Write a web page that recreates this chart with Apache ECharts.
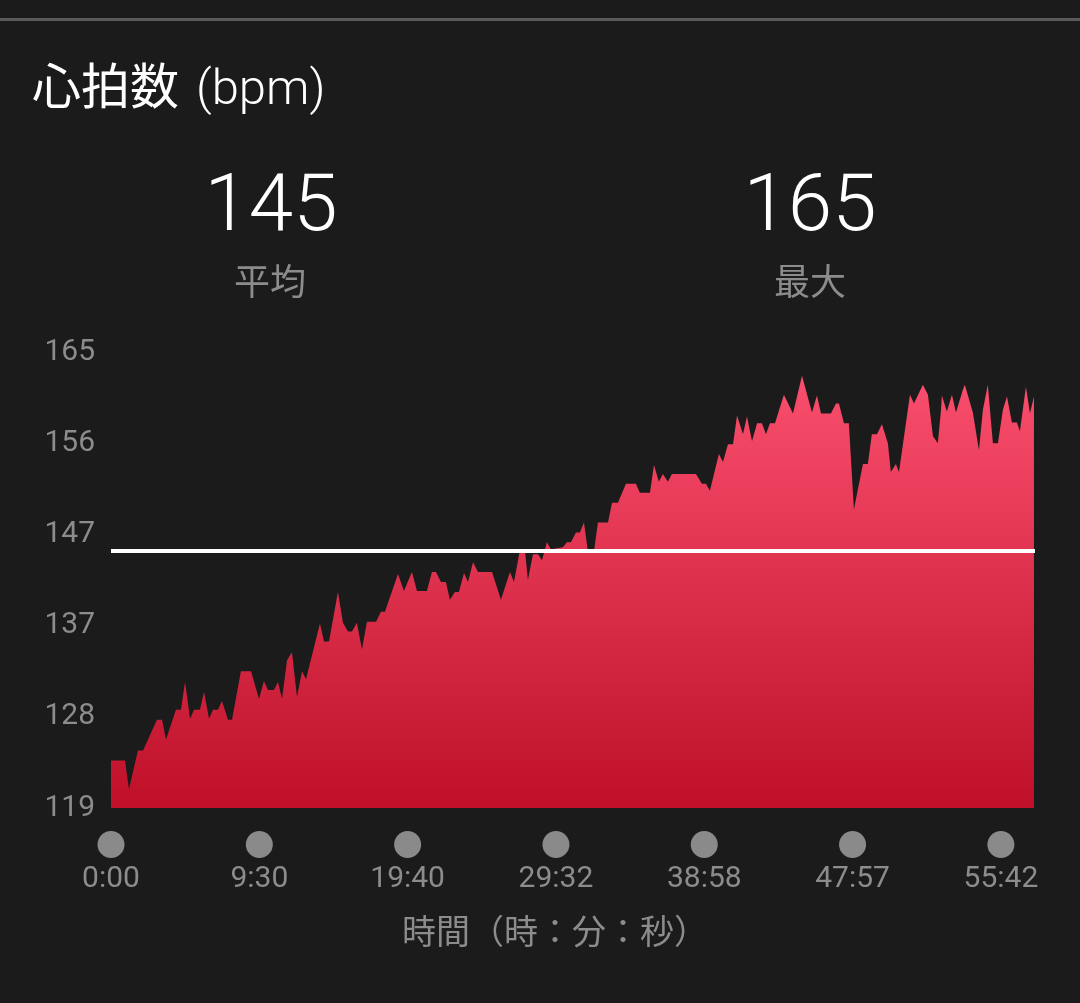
<!DOCTYPE html>
<html>
<head>
<meta charset="utf-8">
<script src="https://cdn.jsdelivr.net/npm/echarts@6/dist/echarts.min.js"></script>
<style>
html,body{margin:0;padding:0;background:#1b1b1b;}
#c{width:1080px;height:1003px;}
</style>
</head>
<body>
<div id="c"></div>
<script>
// distance-like position along the run (axis units, one tick label per unit)
var dist = [0,0.094,0.121,0.182,0.216,0.310,0.344,0.371,0.438,0.472,0.499,0.533,0.560,0.600,0.627,0.661,0.688,0.721,0.748,0.789,0.816,0.876,0.944,0.998,
1.031,1.058,1.099,1.126,1.153,1.187,1.220,1.254,1.288,1.315,1.409,1.436,1.470,1.530,1.564,1.598,1.625,1.658,1.692,1.726,1.787,1.820,1.847,1.935,1.975,2.029,
2.063,2.130,2.164,2.191,2.225,2.258,2.285,2.319,2.346,2.380,2.407,2.441,2.474,2.569,2.629,2.690,2.717,2.757,2.791,2.811,2.845,2.879,2.906,2.939,2.966,3.047,
3.074,3.101,3.135,3.162,3.189,3.216,3.256,3.283,3.351,3.378,3.418,3.472,3.539,3.566,3.634,3.661,3.694,3.721,3.755,3.782,3.944,3.984,4.011,4.038,4.099,
4.126,4.160,4.194,4.221,4.261,4.288,4.322,4.356,4.389,4.416,4.443,4.477,4.537,4.598,4.659,4.726,4.760,4.787,4.854,4.888,4.908,4.942,4.975,5.009,5.070,5.103,
5.130,5.164,5.198,5.238,5.258,5.292,5.313,5.326,5.353,5.387,5.414,5.474,5.508,5.542,5.575,5.596,5.602,5.636,5.670,5.697,5.744,5.757,5.811,5.852,5.879,5.912,
5.946,5.980,6.014,6.041,6.074,6.108,6.128,6.148,6.169,6.196,6.223];
// heart rate (bpm)
var heartRate = [123.8,123.8,120.9,124.8,124.8,127.9,127.9,125.9,128.9,128.9,131.7,128.0,128.9,128.9,130.7,128.0,128.9,128.9,129.8,127.9,127.9,132.8,132.8,130.0,
131.8,130.9,130.9,131.7,130.0,133.9,134.7,130.2,132.8,132.0,137.6,135.8,135.8,140.8,137.7,136.8,136.8,137.7,135.0,137.8,137.8,138.8,138.8,142.6,140.9,142.8,
140.9,140.9,142.8,142.8,141.8,141.8,140.0,140.8,140.8,142.7,141.8,143.8,142.8,142.8,140.0,142.8,141.8,145.0,145.0,142.0,144.6,144.6,144.0,145.8,145.1,145.3,
145.8,145.8,146.8,146.8,147.8,144.8,144.8,147.8,147.8,149.8,149.8,151.7,151.7,150.8,150.8,153.6,151.9,152.7,151.9,152.7,152.7,151.7,151.7,151.0,154.7,
153.9,155.7,155.7,158.6,156.7,158.5,156.0,157.8,157.8,156.7,157.8,157.8,160.7,158.8,162.6,158.9,160.6,158.8,158.8,159.8,159.8,157.8,157.8,149.1,153.7,153.7,
156.7,156.7,157.7,155.8,152.9,153.7,152.9,152.9,157.1,160.7,159.8,161.7,160.7,156.5,155.8,159.1,160.6,159.0,160.7,158.9,161.2,161.7,158.9,155.1,159.2,161.7,
155.8,155.8,159.2,160.5,157.9,157.9,157.0,159.2,161.5,158.8,160.5];
var timeLabels = ['0:00','9:30','19:40','29:32','38:58','47:57','55:42'];
var avgHr = 145;
var maxHr = 165;
var yMin = 119, yMax = 165;

var seriesData = dist.map(function(d, i){ return [d, heartRate[i]]; });

var chart = echarts.init(document.getElementById('c'), null, {renderer:'canvas'});
var FONT = 'Roboto, "Noto Sans CJK JP", sans-serif';
var GREY = '#8c8c8c';

chart.setOption({
  backgroundColor: '#1b1b1b',
  animation: false,
  grid: {left: 111, right: 45, top: 352, bottom: 195},
  xAxis: {
    type: 'value',
    min: 0,
    max: 6.23,
    interval: 1,
    axisLine: {show: false},
    axisTick: {show: false},
    splitLine: {show: false},
    axisLabel: {
      showMaxLabel: false,
      margin: 23,
      formatter: function(v){
        if (Math.abs(v - Math.round(v)) > 1e-6) return '';
        var t = timeLabels[Math.round(v)];
        return t === undefined ? '' : '{d|}\n{t|' + t + '}';
      },
      rich: {
        d: {width: 27, height: 27, borderRadius: 13.5, backgroundColor: '#8a8a8a', align: 'center'},
        t: {fontSize: 30, color: GREY, fontFamily: FONT, lineHeight: 42, align: 'center'}
      }
    }
  },
  yAxis: {
    type: 'value',
    min: yMin,
    max: yMax,
    interval: (yMax - yMin) / 5,
    axisLine: {show: false},
    axisTick: {show: false},
    splitLine: {show: false},
    axisLabel: {
      margin: 16,
      fontSize: 30,
      color: GREY,
      fontFamily: FONT,
      formatter: function(v){ return String(Math.round(v)); }
    }
  },
  series: [{
    type: 'line',
    data: seriesData,
    showSymbol: false,
    symbol: 'none',
    lineStyle: {width: 0},
    areaStyle: {
      opacity: 1,
      color: new echarts.graphic.LinearGradient(0, 0, 0, 1, [
        {offset: 0, color: '#fa4e6e'},
        {offset: 1, color: '#be1028'}
      ])
    },
    markLine: {
      silent: true,
      symbol: 'none',
      label: {show: false},
      lineStyle: {color: '#ffffff', width: 4, type: 'solid'},
      data: [{yAxis: avgHr}]
    }
  }],
  graphic: [
    {type: 'rect', shape: {x: 0, y: 18, width: 1080, height: 3}, style: {fill: '#5a5a5a'}},
    {type: 'text', x: 32, y: 92, style: {text: '心拍数', font: '400 49px ' + FONT, fill: '#ffffff', textVerticalAlign: 'middle'}},
    {type: 'text', x: 196, y: 92, style: {text: '(bpm)', font: '300 49px ' + FONT, fill: '#ffffff', textVerticalAlign: 'middle'}},
    {type: 'text', x: 271, y: 210, style: {text: String(avgHr), font: '300 80px ' + FONT, fill: '#ffffff', textAlign: 'center', textVerticalAlign: 'middle'}},
    {type: 'text', x: 810, y: 210, style: {text: String(maxHr), font: '300 80px ' + FONT, fill: '#ffffff', textAlign: 'center', textVerticalAlign: 'middle'}},
    {type: 'text', x: 270, y: 286, style: {text: '平均', font: '400 36px ' + FONT, fill: GREY, textAlign: 'center', textVerticalAlign: 'middle'}},
    {type: 'text', x: 810, y: 286, style: {text: '最大', font: '400 36px ' + FONT, fill: GREY, textAlign: 'center', textVerticalAlign: 'middle'}},
    {type: 'text', x: 555, y: 935, style: {text: '時間（時：分：秒）', font: '400 34px ' + FONT, fill: GREY, textAlign: 'center', textVerticalAlign: 'middle'}}
  ]
});
</script>
</body>
</html>
